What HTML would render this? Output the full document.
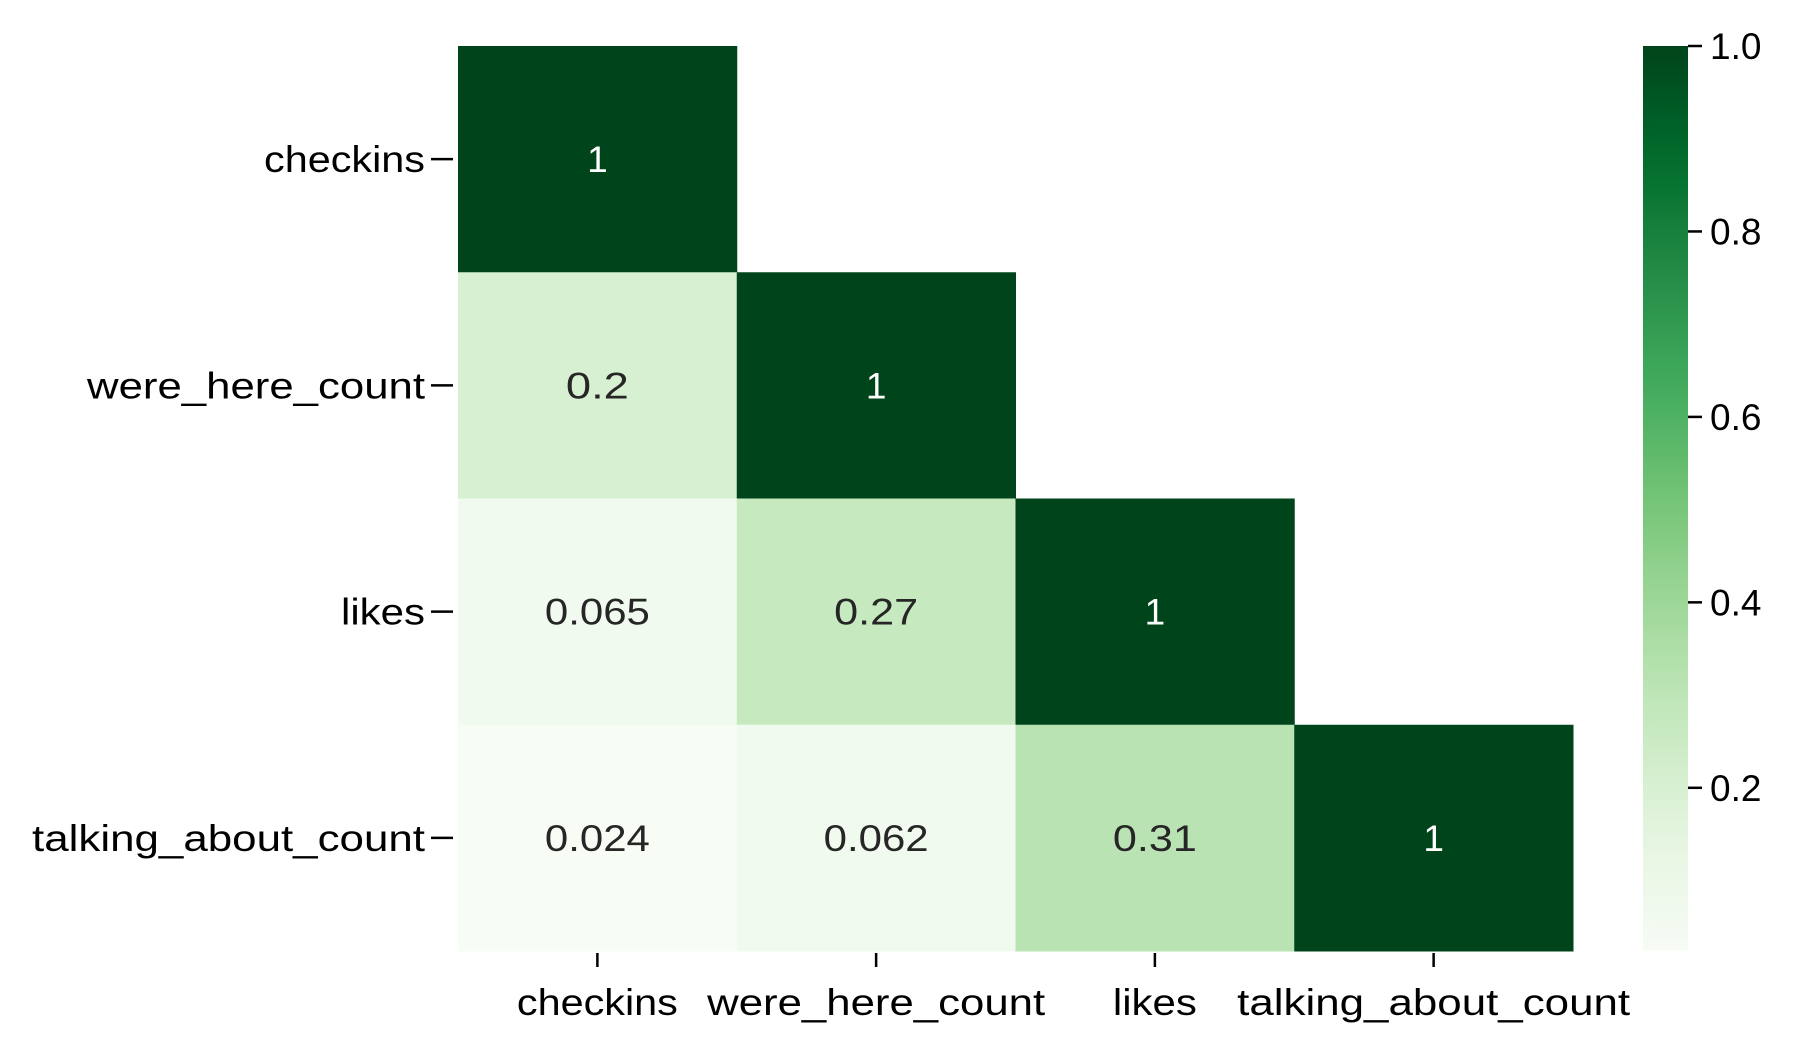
<!DOCTYPE html>
<html><head><meta charset="utf-8"><style>
html,body{margin:0;padding:0;background:#fff;}
svg text{font-family:"Liberation Sans",sans-serif;}
</style></head><body>
<svg id="chart" width="1809" height="1056" xmlns="http://www.w3.org/2000/svg">
<defs><linearGradient id="cbgrad" x1="0" y1="1" x2="0" y2="0"></linearGradient></defs>
<g id="cells"></g><g id="axes"></g><g id="cbar"></g>
</svg>
<script>
const labels = ["checkins","were_here_count","likes","talking_about_count"];
const row0 = [1];
const row1 = [0.2, 1];
const row2 = [0.065, 0.27, 1];
const row3 = [0.024, 0.062, 0.31, 1];
const cbTicks = [0.2, 0.4, 0.6, 0.8, 1.0];
const cbTickLabels = ["0.2","0.4","0.6","0.8","1.0"];
const vmin = 0.024, vmax = 1;

const rows=[row0,row1,row2,row3];
const NS="http://www.w3.org/2000/svg";
const L=458,R=1573,T=46,B=951;
const cw=(R-L)/labels.length, ch=(B-T)/labels.length;
const xPos=i=>L+i*cw, yPos=i=>T+i*ch;
const labelWidth={"checkins":161,"were_here_count":338,"likes":84,"talking_about_count":393};
const anchors=["#f7fcf5","#e5f5e0","#c7e9c0","#a1d99b","#74c476","#41ab5d","#238b45","#006d2c","#00441b"];
function hex(h){return [1,3,5].map(i=>parseInt(h.substr(i,2),16));}
function cmap(t){t=Math.max(0,Math.min(1,t));const s=t*(anchors.length-1);const i=Math.min(Math.floor(s),anchors.length-2);const f=s-i;const a=hex(anchors[i]),b=hex(anchors[i+1]);return "rgb("+a.map((v,k)=>Math.round(v+(b[k]-v)*f)).join(",")+")";}
const norm=v=>(v-vmin)/(vmax-vmin);
function mk(tag,attrs,parent){const e=document.createElementNS(NS,tag);for(const k in attrs)e.setAttribute(k,attrs[k]);parent.appendChild(e);return e;}
function fitW(t,w){t.setAttribute('textLength',w);t.setAttribute('lengthAdjust','spacingAndGlyphs');}
const cells=document.getElementById('cells');
rows.forEach((r,i)=>r.forEach((v,j)=>{
  const rc=mk('rect',{x:xPos(j),y:yPos(i),width:cw+0.5,height:ch+0.5,fill:cmap(norm(v))},cells);
  
  
  const s=String(v);
  const t=mk('text',{x:xPos(j)+cw/2,y:yPos(i)+ch/2+13,'text-anchor':'middle','font-size':37,fill:norm(v)>0.5?'#ffffff':'#262626'},cells);
  t.textContent=s;
  if(s.length>1) fitW(t,s.length*21);
  
  
}));
const axes=document.getElementById('axes');
labels.forEach((lab,i)=>{
  const yc=yPos(i)+ch/2;
  mk('line',{x1:431,x2:453,y1:yc,y2:yc,stroke:'#000','stroke-width':2.5},axes);
  const t=mk('text',{x:425,y:yc+13,'text-anchor':'end','font-size':37,fill:'#000'},axes);
  t.textContent=lab;
  fitW(t,labelWidth[lab]);
  
  
  const xc=xPos(i)+cw/2;
  mk('line',{x1:xc,x2:xc,y1:953,y2:967,stroke:'#000','stroke-width':2.5},axes);
  const u=mk('text',{x:xc,y:1015,'text-anchor':'middle','font-size':37,fill:'#000'},axes);
  u.textContent=lab;
  fitW(u,labelWidth[lab]);
  
  
});
const grad=document.getElementById('cbgrad');
for(let k=0;k<=20;k++){mk('stop',{offset:(k/20),'stop-color':cmap(k/20)},grad);}
const cb=document.getElementById('cbar');
const CX=1643,CW=45;
const cbr=mk('rect',{x:CX,y:T,width:CW,height:B-T,fill:'url(#cbgrad)'},cb);


const cy=v=>B-norm(v)*(B-T);
cbTicks.forEach((v,k)=>{
  const y=cy(v);
  mk('line',{x1:CX+CW,x2:CX+CW+14,y1:y,y2:y,stroke:'#000','stroke-width':2.5},cb);
  const t=mk('text',{x:CX+CW+22,y:y+13,'font-size':37,fill:'#000'},cb);
  t.textContent=cbTickLabels[k];
  
  
});
</script>
</body></html>
